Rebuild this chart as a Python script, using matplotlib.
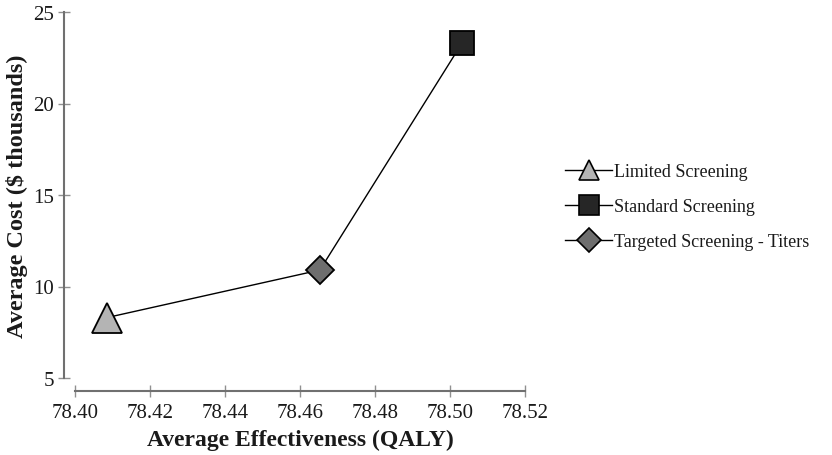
import matplotlib.pyplot as plt
from matplotlib.lines import Line2D

plt.rcParams['font.family'] = ['Liberation Serif', 'DejaVu Serif']

# data
strategies = ['Limited Screening', 'Standard Screening', 'Targeted Screening - Titers']
effectiveness = [78.4085, 78.5032, 78.4653]
cost = [8.3, 23.3, 10.9]
markers = ['^', 's', 'D']
colors = ['#b4b4b4', '#262626', '#6e6e6e']
sizes = [21, 17, 14]
leg_sizes = [15, 14, 12]

fig = plt.figure(figsize=(8.32, 4.56), dpi=100)
ax = fig.add_axes([75 / 832, 1 - 379 / 456, 450 / 832, 366 / 456])

# connecting line, in order of effectiveness
order = sorted(range(len(effectiveness)), key=lambda i: effectiveness[i])
ax.plot([effectiveness[i] for i in order], [cost[i] for i in order],
        color='black', lw=1.0, zorder=2)

for i in range(len(strategies)):
    ax.plot(effectiveness[i], cost[i], marker=markers[i], ms=sizes[i],
            mfc=colors[i], mec='black', mew=1.3, ls='none', zorder=3)

ax.set_xlim(78.40, 78.52)
ax.set_ylim(5, 25)
ax.set_xticks([78.40, 78.42, 78.44, 78.46, 78.48, 78.50, 78.52])
ax.set_xticklabels(['78.40', '78.42', '78.44', '78.46', '78.48', '78.50', '78.52'])
ax.set_yticks([5, 10, 15, 20, 25])

for s in ['top', 'right']:
    ax.spines[s].set_visible(False)
ax.spines['left'].set_position(('outward', 8))
ax.spines['bottom'].set_position(('outward', 9))
for s in ['left', 'bottom']:
    ax.spines[s].set_color('#707070')
    ax.spines[s].set_linewidth(1.5)
ax.tick_params(direction='inout', length=8, width=1, color='#909090',
               labelsize=15, labelcolor='#1a1a1a')
ax.tick_params(axis='x', pad=5)
ax.tick_params(axis='y', pad=3)

ax.set_xlabel('Average Effectiveness (QALY)', fontsize=17, fontweight='bold',
              color='#1a1a1a', labelpad=5)
ax.set_ylabel('Average Cost ($ thousands)', fontsize=17.5, fontweight='bold',
              color='#1a1a1a', labelpad=4)

handles = [Line2D([], [], color='black', lw=1.0, marker=markers[i], ms=leg_sizes[i],
                  mfc=colors[i], mec='black', mew=1.2)
           for i in range(len(strategies))]
fig.legend(handles, strategies, loc='upper left', bbox_to_anchor=(549 / 832, 1 - 148 / 456),
           frameon=False, fontsize=13, handlelength=2.6, handletextpad=0.1,
           labelspacing=1.0, labelcolor='#1a1a1a')

fig.savefig('out.png', dpi=100)
